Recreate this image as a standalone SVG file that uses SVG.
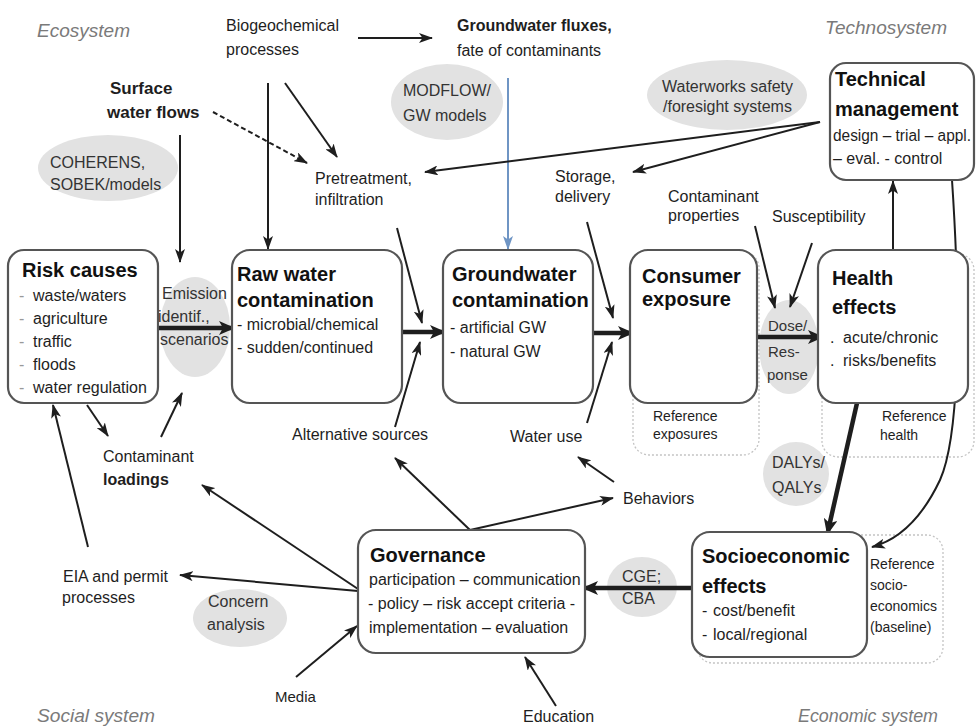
<svg xmlns="http://www.w3.org/2000/svg" width="977" height="728" viewBox="0 0 977 728">
<style>
.box{fill:#fff;stroke:#555;stroke-width:2.2}
.ref{fill:none;stroke:#c4c4c4;stroke-width:1.3;stroke-dasharray:2 2}
.ell{fill:#e2e2e2}
text{font-family:"Liberation Sans",Arial,sans-serif;font-size:16px;fill:#1e1e1e}
.h{font-size:20px;font-weight:bold;fill:#111}
.b{font-weight:bold}
.s{font-size:14px}
.sys{font-size:18.5px;font-style:italic;fill:#7a7a7a}
.g{fill:#333}
.dash{fill:#999}
.a{stroke:#1e1e1e;stroke-width:2;fill:none;marker-end:url(#ah)}
.A{stroke:#1e1e1e;stroke-width:4.5;fill:none;marker-end:url(#AH)}
</style>
<defs>
<marker id="ah" markerUnits="userSpaceOnUse" viewBox="0 0 14 10" markerWidth="14" markerHeight="10" refX="13" refY="5" orient="auto"><path d="M0,0 L14,5 L0,10 L3.5,5 z" fill="#1e1e1e"/></marker>
<marker id="AH" markerUnits="userSpaceOnUse" viewBox="0 0 16 14" markerWidth="16" markerHeight="14" refX="12" refY="7" orient="auto"><path d="M0,0 L16,7 L0,14 L4,7 z" fill="#1e1e1e"/></marker>
<marker id="bh" markerUnits="userSpaceOnUse" viewBox="0 0 14 10" markerWidth="14" markerHeight="10" refX="13" refY="5" orient="auto"><path d="M0,0 L14,5 L0,10 L3.5,5 z" fill="#6f95c4"/></marker>
</defs>
<rect width="977" height="728" fill="#fff"/>

<g id="system-labels">
<text class="sys" x="37" y="37" textLength="93" lengthAdjust="spacingAndGlyphs">Ecosystem</text>
<text class="sys" x="825" y="34" textLength="122" lengthAdjust="spacingAndGlyphs">Technosystem</text>
<text class="sys" x="37" y="722" textLength="118" lengthAdjust="spacingAndGlyphs">Social system</text>
<text class="sys" x="798" y="722" textLength="140" lengthAdjust="spacingAndGlyphs">Economic system</text>
</g>

<g id="ellipses">
<ellipse class="ell" cx="108" cy="168" rx="70" ry="33"/>
<ellipse class="ell" cx="447" cy="102" rx="56" ry="38"/>
<ellipse class="ell" cx="727" cy="95" rx="80" ry="35"/>
<ellipse class="ell" cx="195" cy="327" rx="35" ry="50"/>
<ellipse class="ell" cx="789" cy="347" rx="30" ry="47"/>
<ellipse class="ell" cx="796" cy="474" rx="33" ry="32"/>
<ellipse class="ell" cx="642" cy="587" rx="35" ry="30"/>
<ellipse class="ell" cx="240" cy="618" rx="47" ry="29"/>
</g>

<g id="reference-frames">
<rect class="ref" x="633" y="252" width="126" height="203" rx="16"/>
<rect class="ref" x="822" y="254" width="152" height="203" rx="16"/>
<rect class="ref" x="697" y="535" width="246" height="128" rx="16"/>
</g>

<g id="connectors">
<line class="a" x1="358" y1="38" x2="432" y2="38"/>
<line class="a" x1="268" y1="83" x2="268" y2="249"/>
<line class="a" x1="285" y1="83" x2="337" y2="157"/>
<line class="a" x1="213" y1="112" x2="307" y2="163" stroke-dasharray="5 3"/>
<line class="a" x1="180" y1="135" x2="180" y2="262"/>
<line x1="508" y1="78" x2="508" y2="249" stroke="#6f95c4" stroke-width="2" marker-end="url(#bh)"/>
<line class="a" x1="820" y1="122" x2="425" y2="172"/>
<line class="a" x1="820" y1="122" x2="633" y2="172"/>
<line class="a" x1="893" y1="250" x2="893" y2="181"/>
<path class="a" d="M952,180 C962,330 958,440 940,480 C922,518 898,540 872,547"/>
<line class="A" x1="158" y1="328" x2="231" y2="328"/>
<line class="A" x1="402" y1="332" x2="442" y2="332"/>
<line class="A" x1="593" y1="333" x2="630" y2="333"/>
<line class="A" x1="757" y1="337" x2="820" y2="337"/>
<line class="A" x1="857" y1="403" x2="828" y2="531"/>
<line class="A" x1="692" y1="588" x2="586" y2="588"/>
<line class="a" x1="397" y1="228" x2="422" y2="323"/>
<line class="a" x1="395" y1="427" x2="420" y2="342"/>
<line class="a" x1="587" y1="222" x2="613" y2="318"/>
<line class="a" x1="587" y1="423" x2="612" y2="342"/>
<line class="a" x1="755" y1="226" x2="775" y2="308"/>
<line class="a" x1="812" y1="243" x2="790" y2="307"/>
<line class="a" x1="87" y1="405" x2="108" y2="436"/>
<line class="a" x1="161" y1="437" x2="182" y2="393"/>
<line class="a" x1="88" y1="547" x2="53" y2="405"/>
<line class="a" x1="358" y1="591" x2="180" y2="575"/>
<line class="a" x1="358" y1="589" x2="202" y2="485"/>
<line class="a" x1="296" y1="677" x2="357" y2="626"/>
<line class="a" x1="556" y1="706" x2="525" y2="657"/>
<line class="a" x1="470" y1="530" x2="395" y2="458"/>
<line class="a" x1="470" y1="530" x2="613" y2="498"/>
<line class="a" x1="614" y1="482" x2="578" y2="457"/>
</g>

<g id="risk-causes">
<rect class="box" x="8" y="250" width="150" height="153" rx="16"/>
<text class="h" x="22" y="277">Risk causes</text>
<text class="dash" x="19" y="301">-</text><text x="33" y="301">waste/waters</text>
<text class="dash" x="19" y="324">-</text><text x="33" y="324">agriculture</text>
<text class="dash" x="19" y="347">-</text><text x="33" y="347">traffic</text>
<text class="dash" x="19" y="370">-</text><text x="33" y="370">floods</text>
<text class="dash" x="19" y="393">-</text><text x="33" y="393">water regulation</text>
</g>

<g id="raw-water">
<rect class="box" x="232" y="250" width="170" height="153" rx="18"/>
<text class="h" x="237" y="281">Raw water</text>
<text class="h" x="237" y="307">contamination</text>
<text x="237" y="330">- microbial/chemical</text>
<text x="237" y="353">- sudden/continued</text>
</g>

<g id="groundwater">
<rect class="box" x="443" y="250" width="150" height="153" rx="18"/>
<text class="h" x="452" y="281">Groundwater</text>
<text class="h" x="452" y="307">contamination</text>
<text x="450" y="333">- artificial GW</text>
<text x="450" y="357">- natural GW</text>
</g>

<g id="consumer-exposure">
<rect class="box" x="630" y="250" width="127" height="153" rx="18"/>
<text class="h" x="642" y="283">Consumer</text>
<text class="h" x="642" y="306">exposure</text>
</g>

<g id="health-effects">
<rect class="box" x="818" y="250" width="150" height="153" rx="18"/>
<text class="h" x="832" y="285">Health</text>
<text class="h" x="832" y="314">effects</text>
<text x="830" y="343">.</text><text x="843" y="343">acute/chronic</text>
<text x="830" y="366">.</text><text x="843" y="366">risks/benefits</text>
</g>

<g id="technical-management">
<rect class="box" x="830" y="63" width="144" height="117" rx="16"/>
<text class="h" x="835" y="86">Technical</text>
<text class="h" x="835" y="116">management</text>
<text x="833" y="141" textLength="138" lengthAdjust="spacingAndGlyphs">design – trial – appl.</text>
<text x="833" y="164">– eval. - control</text>
</g>

<g id="governance">
<rect class="box" x="358" y="530" width="227" height="123" rx="18"/>
<text class="h" x="370" y="562">Governance</text>
<text x="369" y="585">participation – communication</text>
<text x="368" y="609">- policy – risk accept criteria -</text>
<text x="369" y="633">implementation – evaluation</text>
</g>

<g id="socioeconomic-effects">
<rect class="box" x="692" y="532" width="175" height="125" rx="18"/>
<text class="h" x="702" y="563">Socioeconomic</text>
<text class="h" x="702" y="593">effects</text>
<text x="702" y="616">-</text><text x="713" y="616">cost/benefit</text>
<text x="702" y="640">-</text><text x="713" y="640">local/regional</text>
</g>

<g id="labels">
<text x="226" y="31">Biogeochemical</text>
<text x="226" y="55">processes</text>
<text class="b" x="457" y="31">Groundwater fluxes,</text>
<text x="457" y="56">fate of contaminants</text>
<text class="b" x="110" y="94" style="font-size:17px">Surface</text>
<text class="b" x="107" y="118" style="font-size:17px">water flows</text>
<text class="g" x="50" y="168">COHERENS,</text>
<text class="g" x="50" y="190">SOBEK/models</text>
<text class="g" x="403" y="96">MODFLOW/</text>
<text class="g" x="403" y="121">GW models</text>
<text class="g" x="662" y="92">Waterworks safety</text>
<text class="g" x="663" y="112">/foresight systems</text>
<text x="315" y="184">Pretreatment,</text>
<text x="315" y="205">infiltration</text>
<text x="555" y="182">Storage,</text>
<text x="555" y="202">delivery</text>
<text x="668" y="202">Contaminant</text>
<text x="668" y="221">properties</text>
<text x="772" y="222">Susceptibility</text>
<text class="g" x="162" y="299">Emission</text>
<text class="g" x="158" y="322">identif.,</text>
<text class="g" x="160" y="345">scenarios</text>
<text class="g" x="768" y="331" style="font-size:15px">Dose/</text>
<text class="g" x="768" y="357" style="font-size:15px">Res-</text>
<text class="g" x="767" y="380" style="font-size:15px">ponse</text>
<text class="s" x="653" y="421">Reference</text>
<text class="s" x="653" y="439">exposures</text>
<text class="s" x="882" y="421">Reference</text>
<text class="s" x="880" y="440">health</text>
<text x="292" y="440">Alternative sources</text>
<text x="510" y="442">Water use</text>
<text x="103" y="462">Contaminant</text>
<text class="b" x="103" y="485">loadings</text>
<text x="623" y="504">Behaviors</text>
<text class="g" x="772" y="468">DALYs/</text>
<text class="g" x="772" y="493">QALYs</text>
<text x="63" y="582">EIA and permit</text>
<text x="62" y="603">processes</text>
<text class="g" x="208" y="607">Concern</text>
<text class="g" x="207" y="630">analysis</text>
<text class="g" x="622" y="582">CGE;</text>
<text class="g" x="622" y="604">CBA</text>
<text class="s" x="870" y="569">Reference</text>
<text class="s" x="870" y="590">socio-</text>
<text class="s" x="870" y="611">economics</text>
<text class="s" x="870" y="632">(baseline)</text>
<text x="275" y="702" style="font-size:15px">Media</text>
<text x="523" y="722">Education</text>
</g>
</svg>
